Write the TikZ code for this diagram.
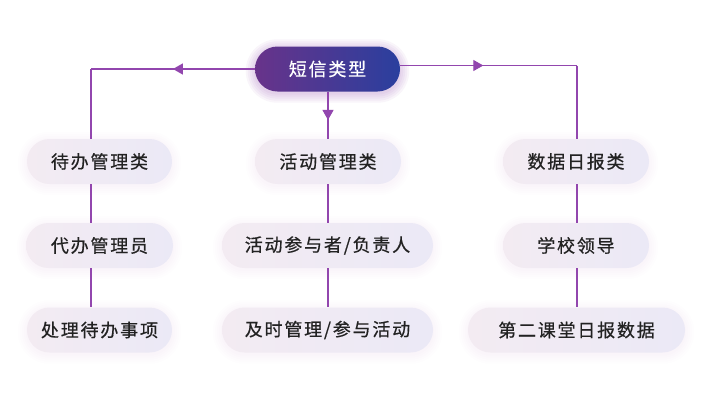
\documentclass[tikz,border=0pt]{standalone}
\usepackage{fontspec}
\setmainfont{Noto Sans CJK SC}[FakeBold=0.6]
\usetikzlibrary{arrows.meta,decorations.markings,backgrounds,calc}
\definecolor{linec}{HTML}{9246AE}
\definecolor{topL}{HTML}{68338A}
\definecolor{topR}{HTML}{2A3F9E}
\definecolor{boxL}{HTML}{F3EBF2}
\definecolor{boxR}{HTML}{EBE9F6}
\definecolor{txt}{HTML}{222222}
\definecolor{glowc}{HTML}{8A6FC0}
\definecolor{topglow}{HTML}{9B59B6}
\newcommand\glowbox[3]{%
  \foreach \k/\o in {1/#3,3/#3,5/#3,7/#3,9/#3}{%
    \fill[#2,opacity=\o,rounded corners={(22.5+\k)*1pt}]
      ($(#1.north west)+(-\k,-\k+2)$) rectangle ($(#1.south east)+(\k,\k+2)$);
  }}
\begin{document}
\begin{tikzpicture}[x=1pt,y=-1pt,
  box/.style={rectangle, rounded corners=22.5pt, minimum height=45pt,
    left color=boxL, right color=boxR, draw=none, text=txt,
    font=\fontsize{18}{20}\selectfont\addfontfeatures{LetterSpace=10}, inner sep=0pt},
  topbox/.style={box, left color=topL, right color=topR, text=white},
  conn/.style={draw=linec, line width=1.2pt},
  midarrow/.style={postaction={decorate}, decoration={markings,
    mark=at position #1 with {\arrow{Triangle[length=10pt,width=11pt]}}}}
]
\useasboundingbox (0,0) rectangle (712,410);

\node[topbox, minimum width=145pt] (top) at (327.5,69) {短信类型};

\node[box, minimum width=145pt] (a1) at (99.5,161.5) {待办管理类};
\node[box, minimum width=147pt] (a2) at (99.5,245.5) {代办管理员};
\node[box, minimum width=145pt] (a3) at (99.5,330) {处理待办事项};

\node[box, minimum width=146pt] (b1) at (328,161.5) {活动管理类};
\node[box, minimum width=211pt] (b2) at (327.5,245.5) {活动参与者/负责人};
\node[box, minimum width=211pt] (b3) at (327.5,330) {及时管理/参与活动};

\node[box, minimum width=146pt] (c1) at (576,161.5) {数据日报类};
\node[box, minimum width=146pt] (c2) at (576,245.5) {学校领导};
\node[box, minimum width=217pt] (c3) at (576.5,330) {第二课堂日报数据};

\coordinate (L) at (91,69);
\coordinate (R) at (577,65.5);
\coordinate (M) at (328,0);

\begin{pgfonlayer}{background}
  \fill[white] (0,0) rectangle (712,410);
  \glowbox{top}{topglow}{0.06}
  \foreach \n in {a1,a2,a3,b1,b2,b3,c1,c2,c3}{\glowbox{\n}{glowc}{0.009}}
\end{pgfonlayer}

\draw[conn, midarrow=0.5] (top.west) -- (L);
\draw[conn] (L) -- (a1.north -| L);
\draw[conn, midarrow=0.47] (top.east |- R) -- (R);
\draw[conn] (R) -- (c1.north -| R);
\draw[conn, midarrow=0.6] (top.south -| M) -- (b1.north -| M);
\draw[conn] (a1.south -| L) -- (a2.north -| L);
\draw[conn] (a2.south -| L) -- (a3.north -| L);
\draw[conn] (b1.south -| M) -- (b2.north -| M);
\draw[conn] (b2.south -| M) -- (b3.north -| M);
\draw[conn] (c1.south -| R) -- (c2.north -| R);
\draw[conn] (c2.south -| R) -- (c3.north -| R);
\end{tikzpicture}
\end{document}
